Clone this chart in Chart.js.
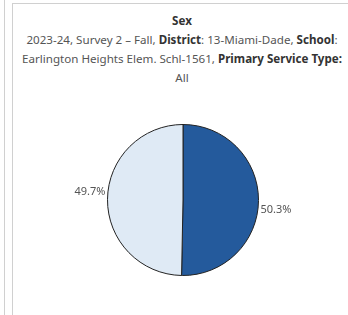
<!DOCTYPE html>
<html lang="en">
<head>
<meta charset="UTF-8">
<title>Sex</title>
<script src="https://cdn.jsdelivr.net/npm/chart.js"></script>
<style>
  body, html {
    margin: 0;
    width: 348px;
    height: 315px;
    overflow: hidden;
    background: #fff;
    font-family: "Noto Sans", Arial, sans-serif;
  }
  .side-line {
    position: absolute;
    left: 4px;
    top: 0;
    width: 1px;
    height: 315px;
    background: #d0d0d0;
  }
  .panel {
    position: absolute;
    left: 12px;
    top: 3px;
    width: 336px;
    height: 312px;
    border-left: 1px solid #d0d0d0;
    border-top: 1px solid #d0d0d0;
  }
  .title {
    position: absolute;
    left: 17px;
    top: 11px;
    width: 330px;
    text-align: center;
    font-size: 11.6px;
    line-height: 19px;
    color: #555;
    white-space: nowrap;
  }
  .title b { color: #333; }
  .pie-box {
    position: absolute;
    left: 43px;
    top: 114px;
    width: 280px;
    height: 172px;
  }
</style>
</head>
<body>
<div class="side-line"></div>
<div class="panel"></div>
<div class="title">
  <b>Sex</b><br>
  2023-24, Survey 2 – Fall, <b>District</b>: 13-Miami-Dade, <b>School</b>:<br>
  Earlington Heights Elem. Schl-1561, <b>Primary Service Type:</b><br>
  All
</div>
<div class="pie-box"><canvas id="sexPie"></canvas></div>

<script>
  // values
  const sexLabels = ['Female', 'Male'];
  const sexShares = [50.3, 49.7];
  const sliceColors = ['#245a9c', '#dfeaf5'];
  const labelNudgeY = [10, -8]; // tableau puts labels a bit off the mid angle

  // draw the percent labels just outside each slice
  const outsideLabels = {
    id: 'outsideLabels',
    afterDatasetsDraw(chart) {
      const ctx = chart.ctx;
      const meta = chart.getDatasetMeta(0);
      ctx.save();
      ctx.font = '11px "Noto Sans", Arial, sans-serif';
      ctx.fillStyle = '#555';
      ctx.textBaseline = 'middle';
      meta.data.forEach(function(arc, i) {
        const mid = (arc.startAngle + arc.endAngle) / 2;
        const r = arc.outerRadius + 2;
        const x = arc.x + Math.cos(mid) * r;
        const y = arc.y + labelNudgeY[i];
        ctx.textAlign = Math.cos(mid) >= 0 ? 'left' : 'right';
        ctx.fillText(sexShares[i].toFixed(1) + '%', x, y);
      });
      ctx.restore();
    }
  };

  new Chart(document.getElementById('sexPie').getContext('2d'), {
    type: 'pie',
    data: {
      labels: sexLabels,
      datasets: [{
        data: sexShares,
        backgroundColor: sliceColors,
        borderColor: '#222',
        borderWidth: 1
      }]
    },
    options: {
      responsive: true,
      maintainAspectRatio: false,
      animation: false,
      layout: { padding: 10 },
      plugins: {
        legend: { display: false },
        tooltip: { enabled: false }
      }
    },
    plugins: [outsideLabels]
  });
</script>
</body>
</html>
